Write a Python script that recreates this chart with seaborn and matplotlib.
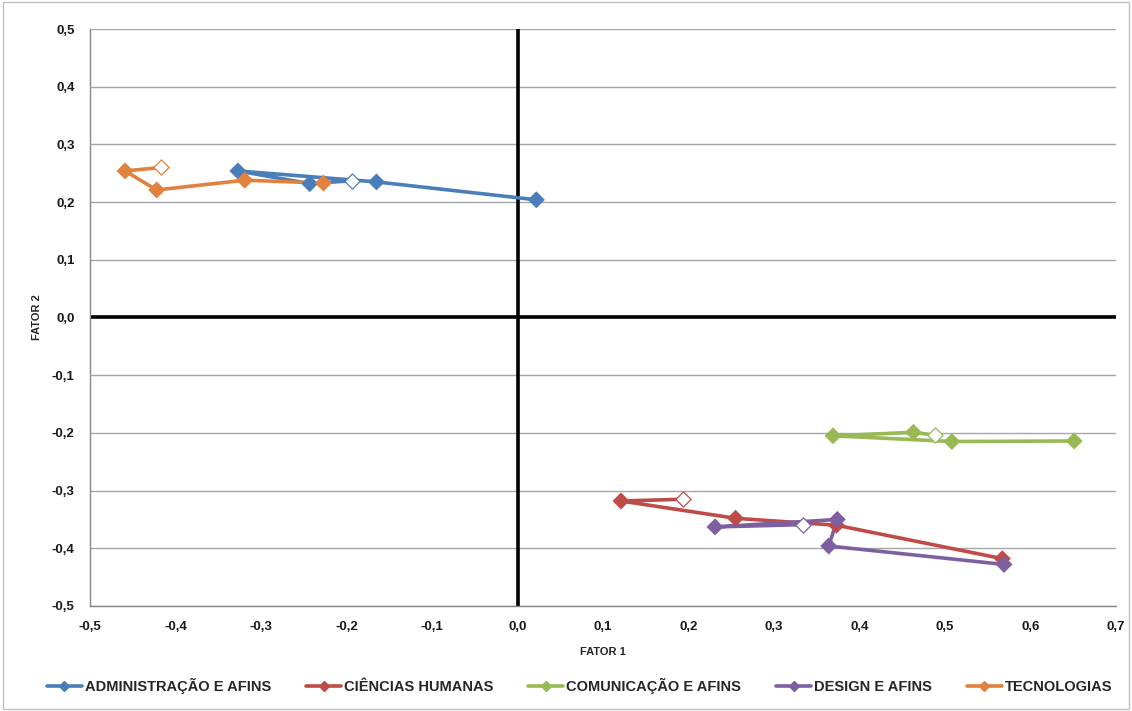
import matplotlib
matplotlib.use("Agg")
import matplotlib.pyplot as plt
import seaborn as sns
import pandas as pd
from matplotlib.ticker import MultipleLocator, FuncFormatter
from matplotlib.lines import Line2D

series_names = ["ADMINISTRAÇÃO E AFINS", "CIÊNCIAS HUMANAS", "COMUNICAÇÃO E AFINS",
                "DESIGN E AFINS", "TECNOLOGIAS"]
colors = ["#4A7EBB", "#BE4B48", "#98B954", "#7D60A0", "#E0823D"]

# first point of each series is the open (hollow) marker
adm_x = [-0.194, -0.243, -0.327, -0.165, 0.022]
adm_y = [0.237, 0.232, 0.254, 0.235, 0.204]
cie_x = [0.194, 0.121, 0.255, 0.373, 0.567]
cie_y = [-0.315, -0.318, -0.348, -0.360, -0.418]
com_x = [0.488, 0.463, 0.369, 0.508, 0.651]
com_y = [-0.204, -0.199, -0.205, -0.215, -0.214]
des_x = [0.334, 0.231, 0.374, 0.364, 0.569]
des_y = [-0.359, -0.363, -0.350, -0.396, -0.428]
tec_x = [-0.417, -0.459, -0.422, -0.319, -0.227]
tec_y = [0.260, 0.254, 0.221, 0.238, 0.233]

all_x = [adm_x, cie_x, com_x, des_x, tec_x]
all_y = [adm_y, cie_y, com_y, des_y, tec_y]

rows = []
for name, xs, ys in zip(series_names, all_x, all_y):
    for i, (xv, yv) in enumerate(zip(xs, ys)):
        rows.append({"serie": name, "order": i, "x": xv, "y": yv, "open": i == 0})
df = pd.DataFrame(rows)

sns.set_theme(style="white")
plt.rcParams['font.family'] = ['Liberation Sans', 'DejaVu Sans']
plt.rcParams['font.weight'] = 'bold'

fig = plt.figure(figsize=(11.32, 7.11), dpi=100)
ax = fig.add_axes([0.0795, 0.1477, 0.9064, 0.8115])

palette = dict(zip(series_names, colors))

ax.axhline(0, color="black", lw=2.6, zorder=2)
ax.axvline(0, color="black", lw=2.6, zorder=2)

sns.lineplot(data=df, x="x", y="y", hue="serie", palette=palette, sort=False,
             estimator=None, units="serie", lw=2.6, ax=ax, legend=False, zorder=3)
filled = df[~df["open"]]
sns.scatterplot(data=filled, x="x", y="y", hue="serie", palette=palette, marker="D",
                s=75, edgecolor=None, linewidth=0, ax=ax, legend=False, zorder=4)
opened = df[df["open"]]
for name in series_names:
    sub = opened[opened["serie"] == name]
    ax.scatter(sub["x"], sub["y"], marker="D", s=60, facecolors="white",
               edgecolors=palette[name], linewidths=0.9, zorder=5)

ax.set_xlim(-0.5, 0.7)
ax.set_ylim(-0.5, 0.5)
ax.xaxis.set_major_locator(MultipleLocator(0.1))
ax.yaxis.set_major_locator(MultipleLocator(0.1))
fmt = FuncFormatter(lambda v, p: f"{v:.1f}".replace(".", ",").replace("-0,0", "0,0"))
ax.xaxis.set_major_formatter(fmt)
ax.yaxis.set_major_formatter(fmt)
ax.grid(axis="y", color="#A6A6A6", lw=1.0, zorder=0)
ax.grid(axis="x", visible=False)
for s in ["top", "right"]:
    ax.spines[s].set_visible(False)
for s in ["left", "bottom"]:
    ax.spines[s].set_color("#868686")
    ax.spines[s].set_linewidth(1.0)
ax.tick_params(axis="both", which="major", direction="out", length=5, width=1,
               color="#868686", labelsize=9.5, pad=6, labelcolor="#1a1a1a")
for lab in ax.get_xticklabels() + ax.get_yticklabels():
    lab.set_fontweight("bold")
ax.set_xlabel("FATOR 1", fontsize=8, fontweight="bold", labelpad=10)
ax.set_ylabel("FATOR 2", fontsize=8, fontweight="bold")
ax.yaxis.set_label_coords(-0.047, 0.5)

handles = [Line2D([0], [0], color=c, lw=2.6, marker="D", markersize=5) for c in colors]
fig.legend(handles, series_names, loc="center", bbox_to_anchor=(0.512, 0.035), ncol=5,
           frameon=False, handlelength=2.4, handletextpad=0.2,
           columnspacing=2.4, prop={"weight": "bold", "size": 10.5})

border = plt.Rectangle((0.003, 0.003), 0.994, 0.994, transform=fig.transFigure,
                       fill=False, edgecolor="#BFBFBF", lw=1)
fig.patches.append(border)

fig.savefig("out.png", dpi=100)
